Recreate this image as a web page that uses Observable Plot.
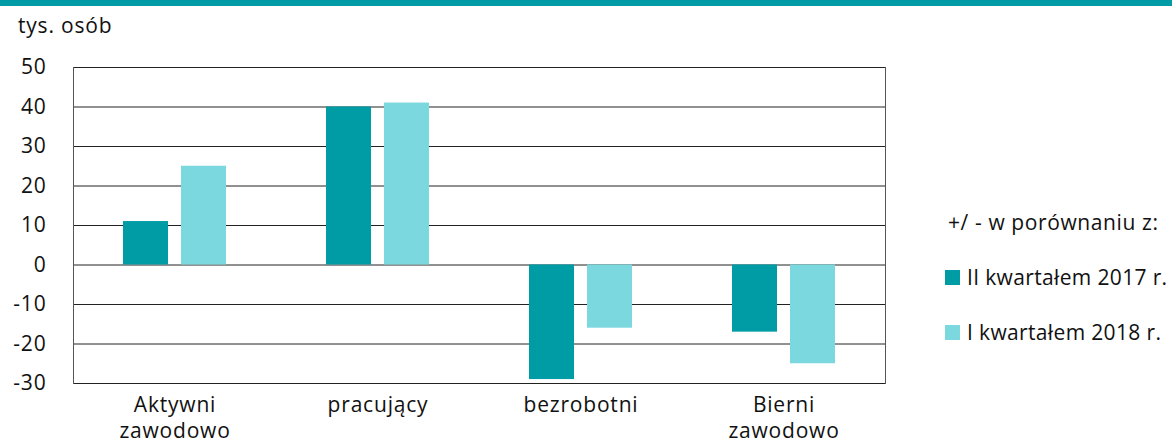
<!DOCTYPE html>
<html>
<head>
<meta charset="utf-8">
<script src="https://cdn.jsdelivr.net/npm/d3@7"></script>
<script src="https://cdn.jsdelivr.net/npm/@observablehq/plot@0.6"></script>
<style>
  html, body { margin: 0; padding: 0; background: #fff; }
  body { width: 1172px; height: 444px; position: relative; overflow: hidden; font-family: "Open Sans", "Noto Sans", sans-serif; color: #111; letter-spacing: 0.8px; }
  #band { position: absolute; left: 0; top: 0; width: 1172px; height: 6px; background: #009ba6; }
  #unit { position: absolute; left: 18px; top: 10px; font-size: 21px; line-height: 30px; }
  #chart { position: absolute; left: 0; top: 0; }
  #legend { position: absolute; left: 945px; top: 205px; font-size: 21px; letter-spacing: 0.35px; }
  #legend .title { position: absolute; left: 3px; top: 0; white-space: nowrap; line-height: 34px; letter-spacing: 0.6px; }
  #legend .item { position: absolute; left: 0; white-space: nowrap; line-height: 34px; display: flex; align-items: center; }
  #legend .sw { width: 15px; height: 15px; margin-right: 7px; }
</style>
</head>
<body>
<div id="band"></div>
<div id="unit">tys. osób</div>
<div id="chart"></div>
<div id="legend"></div>
<script>
const categories = ["Aktywni zawodowo", "pracujący", "bezrobotni", "Bierni zawodowo"];
const seriesNames = ["II kwartałem 2017 r.", "I kwartałem 2018 r."];
const seriesColors = ["#009ca6", "#7ad8de"];
const valuesII2017 = [11, 40, -29, -17];
const valuesI2018 = [25, 41, -16, -25];
const yTicks = [-30, -20, -10, 0, 10, 20, 30, 40, 50];
const legendTitle = "+/ - w porównaniu z:";

const data = [];
categories.forEach((c, i) => {
  data.push({cat: c, series: seriesNames[0], value: valuesII2017[i]});
  data.push({cat: c, series: seriesNames[1], value: valuesI2018[i]});
});

const font = "'Open Sans', 'Noto Sans', sans-serif";

const chart = Plot.plot({
  width: 1172,
  height: 444,
  marginTop: 67,
  marginBottom: 61,
  marginLeft: 72,
  marginRight: 287,
  style: {fontFamily: font, fontSize: "21px", color: "#111", background: "transparent", letterSpacing: "0.8px"},
  fx: {domain: categories, padding: 0, label: null},
  x: {domain: seriesNames, paddingInner: 0.22, paddingOuter: 0.86, axis: null},
  y: {domain: [-30, 50], label: null, axis: null},
  color: {domain: seriesNames, range: seriesColors},
  marks: [
    Plot.gridY(yTicks, {stroke: "#222", strokeOpacity: 1, strokeWidth: 1}),
    Plot.frame({anchor: "left", facetAnchor: "left", stroke: "#555"}),
    Plot.frame({anchor: "right", facetAnchor: "right", stroke: "#555"}),
    Plot.axisY(yTicks, {anchor: "left", tickSize: 0, tickPadding: 27, tickFormat: d => String(d), fontSize: 21, label: null}),
    Plot.barY(data, {fx: "cat", x: "series", y: "value", fill: "series"}),
    Plot.axisFx({anchor: "bottom", tickSize: 0, tickPadding: 10, fontSize: 21, lineHeight: 1.25, label: null,
      tickFormat: d => d.replace(" ", "\n")})
  ]
});
document.getElementById("chart").appendChild(chart);

const legend = document.getElementById("legend");
const t = document.createElement("div");
t.className = "title";
t.textContent = legendTitle;
legend.appendChild(t);
seriesNames.forEach((s, i) => {
  const it = document.createElement("div");
  it.className = "item";
  it.style.top = (55 + i * 55) + "px";
  const sw = document.createElement("span");
  sw.className = "sw";
  sw.style.background = seriesColors[i];
  it.appendChild(sw);
  const lb = document.createElement("span");
  lb.textContent = s;
  it.appendChild(lb);
  legend.appendChild(it);
});
</script>
</body>
</html>
